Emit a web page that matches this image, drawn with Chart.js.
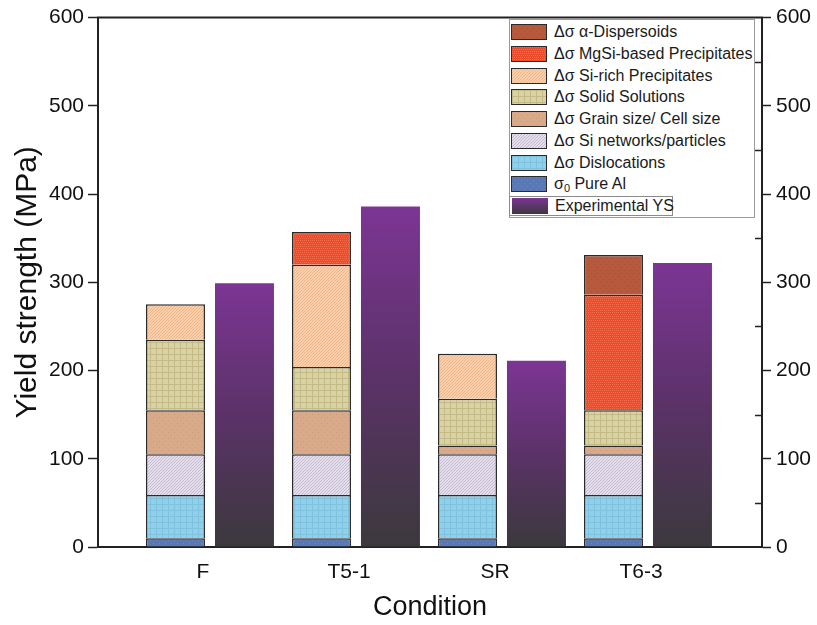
<!DOCTYPE html>
<html><head><meta charset="utf-8">
<script src="https://cdn.jsdelivr.net/npm/chart.js@4.4.1/dist/chart.umd.min.js"></script>
<style>
html,body{margin:0;padding:0;background:#fff;}
#wrap{position:relative;width:817px;height:625px;}
#legend{position:absolute;left:509px;top:19px;width:246px;height:199px;border:1px solid #9a9a9a;box-sizing:border-box;font-family:"Liberation Sans",Arial,sans-serif;font-size:16px;color:#1a1a1a;background:#fff;}
.row{position:absolute;left:0;height:20px;display:flex;align-items:center;white-space:nowrap;}
.sw{width:36px;height:16px;border:1.5px solid #2a2a2a;box-sizing:border-box;margin-left:1px;margin-right:7px;flex:none;}
.exp{border:1px solid #8a8a8a;box-sizing:border-box;width:164px;left:-1px;}
sub{font-size:11px;vertical-align:-3px;}
</style></head>
<body><div id="wrap"><canvas id="c" width="817" height="625"></canvas><div id="legend"></div></div>
<script>
const categories = ['F', 'T5-1', 'SR', 'T6-3'];
const pureAl = [10, 10, 10, 10];
const dislocations = [49, 49, 49, 49];
const siNetworks = [46, 46, 46, 46];
const grainSize = [50, 50, 10, 10];
const solidSolutions = [80, 49, 53, 40];
const siRichPrecipitates = [40, 116, 51, null];
const mgSiPrecipitates = [null, 37, null, 131];
const dispersoids = [null, null, null, 45];
const experimentalYS = [299, 386, 211, 322];
const yTicks = [0, 100, 200, 300, 400, 500, 600];
const yMinorTicks = [50, 150, 250, 350, 450, 550];

const FONT = '"Liberation Sans", Arial, sans-serif';
const canvas = document.getElementById('c');
const ctx0 = canvas.getContext('2d');

function makeTile(bg, fg, kind) {
  const c = document.createElement('canvas');
  c.width = c.height = 6;
  const g = c.getContext('2d');
  g.fillStyle = bg; g.fillRect(0, 0, 6, 6);
  g.fillStyle = fg;
  if (kind === 'dots') {
    for (let y = 0; y < 6; y += 2) for (let x = (y / 2) % 2; x < 6; x += 2) g.fillRect(x, y, 1, 1);
  } else if (kind === 'diag') {
    for (let i = 0; i < 6; i++) { g.fillRect(i, (6 - i) % 6, 1, 1); g.fillRect(i, (9 - i) % 6, 1, 1); }
  } else if (kind === 'grid') {
    g.fillRect(0, 0, 6, 1); g.fillRect(0, 0, 1, 6);
  } else if (kind === 'fine') {
    g.fillRect(0, 0, 1, 1); g.fillRect(3, 3, 1, 1);
  }
  return c;
}
function fillOf(bg, fg, kind) {
  const tile = makeTile(bg, fg, kind);
  return { pattern: ctx0.createPattern(tile, 'repeat'), url: tile.toDataURL() };
}

const styles = {
  pureAl: fillOf('#5a78b4', '#6a88c2', 'fine'),
  dis: fillOf('#8fd0ea', '#80c2de', 'grid'),
  net: fillOf('#e6e0ec', '#c2b8d2', 'diag'),
  grain: fillOf('#d8aa8a', '#cc9c7c', 'fine'),
  solid: fillOf('#d9d2a2', '#c4ba88', 'grid'),
  sirich: fillOf('#f9d0ab', '#efb488', 'diag'),
  mgsi: fillOf('#ec4c2c', '#f36c4c', 'dots'),
  disp: fillOf('#b6593c', '#a84e32', 'fine')
};

const stackSeries = [
  { label: 'σ0 Pure Al', values: pureAl, st: styles.pureAl },
  { label: 'Δσ Dislocations', values: dislocations, st: styles.dis },
  { label: 'Δσ Si networks/particles', values: siNetworks, st: styles.net },
  { label: 'Δσ Grain size/ Cell size', values: grainSize, st: styles.grain },
  { label: 'Δσ Solid Solutions', values: solidSolutions, st: styles.solid },
  { label: 'Δσ Si-rich Precipitates', values: siRichPrecipitates, st: styles.sirich },
  { label: 'Δσ MgSi-based Precipitates', values: mgSiPrecipitates, st: styles.mgsi },
  { label: 'Δσ α-Dispersoids', values: dispersoids, st: styles.disp }
];

const datasets = stackSeries.map(s => ({
  label: s.label,
  data: s.values.map((v, i) => ({ x: i, y: v })),
  backgroundColor: s.st.pattern,
  borderColor: '#2a2a2a',
  borderWidth: 1.5,
  stack: 'calc'
}));
datasets.push({
  label: 'Experimental YS',
  data: experimentalYS.map((v, i) => ({ x: i, y: v })),
  stack: 'exp',
  borderWidth: 0,
  backgroundColor: function (c) {
    const chart = c.chart;
    if (!chart.chartArea || c.raw == null) return '#5a2f6a';
    const ys = chart.scales.y;
    const top = ys.getPixelForValue(c.raw.y);
    const bot = ys.getPixelForValue(0);
    const g = chart.ctx.createLinearGradient(0, top, 0, bot);
    g.addColorStop(0, '#7c3594');
    g.addColorStop(0.5, '#5b3268');
    g.addColorStop(1, '#3b393d');
    return g;
  }
});

const frame = {
  id: 'frame',
  afterDraw(chart) {
    const { ctx, chartArea } = chart;
    const y2 = chart.scales.y2;
    ctx.save();
    ctx.strokeStyle = '#222';
    ctx.lineWidth = 2;
    ctx.beginPath();
    ctx.moveTo(chartArea.left - 1, chartArea.top);
    ctx.lineTo(chartArea.right + 1, chartArea.top);
    ctx.stroke();
    ctx.lineWidth = 1.5;
    ctx.beginPath();
    yMinorTicks.forEach(v => {
      const p = Math.round(y2.getPixelForValue(v)) + 0.5;
      ctx.moveTo(chartArea.right - 7, p);
      ctx.lineTo(chartArea.right, p);
    });
    ctx.stroke();
    ctx.restore();
  }
};

const chart = new Chart(canvas, {
  type: 'bar',
  data: { datasets },
  plugins: [frame],
  options: {
    responsive: false,
    animation: false,
    devicePixelRatio: 1,
    layout: { padding: { top: 16, left: 0, right: 0, bottom: 0 } },
    plugins: { legend: { display: false }, tooltip: { enabled: false } },
    datasets: { bar: { categoryPercentage: 0.945, barPercentage: 0.855 } },
    scales: {
      x: {
        type: 'linear',
        offset: false,
        min: -0.767, max: 3.781,
        afterBuildTicks(s) { s.ticks = categories.map((c, i) => ({ value: i })); },
        ticks: {
          callback: v => categories[v] ?? '',
          font: { size: 21, family: FONT }, color: '#111',
          padding: 13, labelOffset: -7, maxRotation: 0, autoSkip: false
        },
        grid: { offset: false, drawOnChartArea: false, drawTicks: false },
        border: { display: true, width: 2, color: '#222' },
        title: { display: true, text: 'Condition', font: { size: 27, family: FONT }, color: '#111', padding: { top: 0, bottom: 1 } },
        afterFit(s) { s.height = 78; }
      },
      y: {
        position: 'left',
        stacked: true,
        min: 0, max: 600,
        afterBuildTicks(s) { s.ticks = yTicks.map(v => ({ value: v })); },
        ticks: { font: { size: 21, family: FONT }, color: '#111', padding: 4 },
        grid: { drawOnChartArea: false, tickLength: 10, color: '#222', tickWidth: 1.5 },
        border: { width: 2, color: '#222' },
        title: { display: true, text: 'Yield strength (MPa)', font: { size: 30, family: FONT }, color: '#111', padding: { top: 10, bottom: 0 } },
        afterFit(s) { s.width = 98; }
      },
      y2: {
        position: 'right',
        min: 0, max: 600,
        afterBuildTicks(s) { s.ticks = yTicks.map(v => ({ value: v })); },
        ticks: { font: { size: 21, family: FONT }, color: '#111', padding: 5 },
        grid: { drawOnChartArea: false, tickLength: 9, color: '#222', tickWidth: 1.5 },
        border: { width: 2, color: '#222' },
        afterFit(s) { s.width = 55; }
      }
    }
  }
});

// HTML legend built from the chart's datasets
const legend = document.getElementById('legend');
const order = chart.data.datasets.slice(0, stackSeries.length).reverse();
function labelHTML(t) {
  return t.replace('σ0', 'σ<sub>0</sub>');
}
order.forEach((ds, k) => {
  const s = stackSeries.find(x => x.label === ds.label);
  const row = document.createElement('div');
  row.className = 'row';
  row.style.top = (2 + k * 21.75) + 'px';
  const sw = document.createElement('div');
  sw.className = 'sw';
  sw.style.backgroundImage = 'url(' + s.st.url + ')';
  const tx = document.createElement('span');
  tx.innerHTML = labelHTML(ds.label);
  row.appendChild(sw); row.appendChild(tx);
  legend.appendChild(row);
});
{
  const ds = chart.data.datasets[stackSeries.length];
  const row = document.createElement('div');
  row.className = 'row exp';
  row.style.top = '176px';
  const sw = document.createElement('div');
  sw.className = 'sw';
  sw.style.border = 'none';
  sw.style.marginLeft = '2px';
  sw.style.background = 'linear-gradient(#7c3594, #3b393d)';
  const tx = document.createElement('span');
  tx.textContent = ds.label;
  row.appendChild(sw); row.appendChild(tx);
  legend.appendChild(row);
}
</script>
</body></html>
